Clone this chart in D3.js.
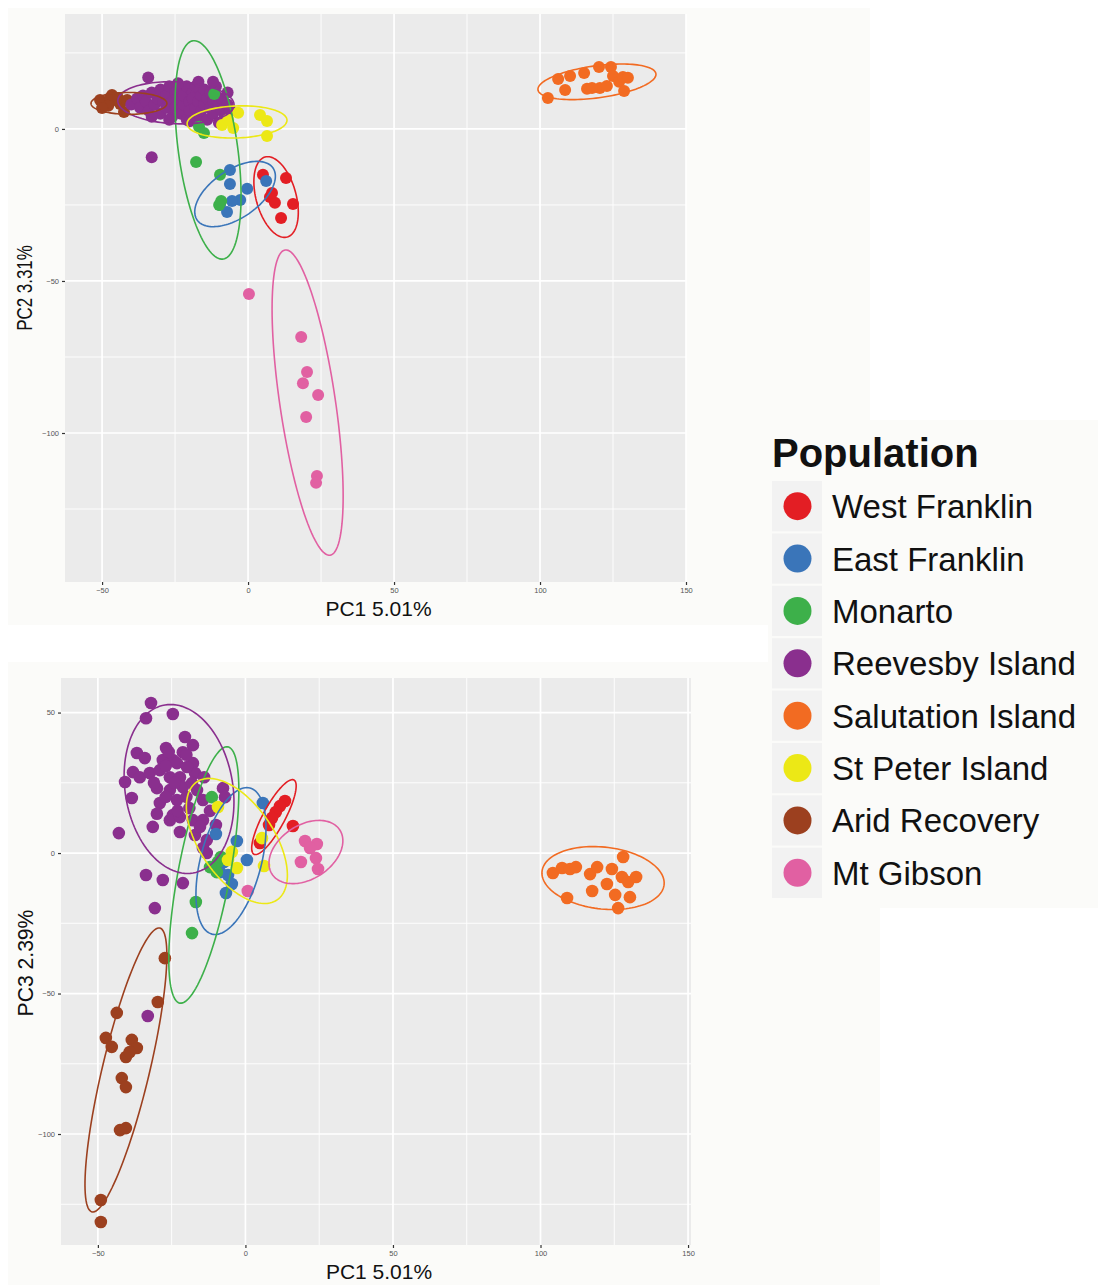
<!DOCTYPE html>
<html>
<head>
<meta charset="utf-8">
<script src="https://cdn.jsdelivr.net/npm/d3@7"></script>
<style>
  body { margin: 0; background: #fff; }
  svg { display: block; font-family: "Liberation Sans", Arial, Helvetica, sans-serif; }
</style>
</head>
<body>
<svg id="chart" width="1098" height="1285"></svg>
<script>
// populations + colours (legend order)
var populations = ['West Franklin', 'East Franklin', 'Monarto', 'Reevesby Island',
                   'Salutation Island', 'St Peter Island', 'Arid Recovery', 'Mt Gibson'];
var colours = ['#e31e24', '#3a75b9', '#3db04a', '#8a2f8e',
               '#f26b22', '#ece816', '#9c401f', '#e160a2'];

var xTicks = [-50, 0, 50, 100, 150];
var yTicksTop = [0, -50, -100];
var yTicksBottom = [50, 0, -50, -100];

// ---- PC1 / PC2 scores ----
var wfTop = [[5.1,-15.1],[13.0,-16.1],[7.5,-22.4],[9.2,-24.3],[15.4,-24.7],[11.3,-29.3],[8.2,-21.1]];
var efTop = [[-6.2,-13.5],[6.2,-17.1],[-6.2,-18.1],[-0.3,-19.7],[-2.7,-23.4],[-5.5,-23.7],[-9.6,-25.0],[-7.2,-27.3]];
var moTop = [[-11.6,11.5],[-16.8,0.7],[-15.1,-1.3],[-17.8,-10.9],[-9.6,-15.1],[-9.2,-23.7],[-9.9,-25.0]];
var reTop = [[-40,8],[-38,10],[-37,7],[-36,11],[-35,9],[-34,6],[-33,12],[-32,8],[-31,10],[-30,5],
  [-30,13],[-29,9],[-28,7],[-28,11],[-27,14],[-26,9],[-26,4],[-25,12],[-25,7],[-24,10],
  [-23,13],[-23,5],[-22,8],[-22,11],[-21,14],[-21,3],[-20,9],[-20,6],[-19,12],[-19,10],
  [-18,7],[-18,14],[-17,4],[-17,9],[-16,11],[-16,6],[-15,13],[-15,8],[-14,10],[-14,3],
  [-13,7],[-13,12],[-12,9],[-12,5],[-11,11],[-11,14],[-10,8],[-10,2],[-9,6],[-9,10],
  [-8,4],[-7,8],[-7,12],[-6,6],[-24,15],[-17,15.5],[-12,15.5],[-20,2.5],[-27,3],[-33,4],
  [-34.2,16.9],[-33,-9.3]];
var saTop = [[102.7,10.2],[106.2,16.4],[108.6,12.8],[110.3,17.4],[115.1,18.4],[116.1,13.2],[120.2,20.4],
  [120.5,13.5],[124.3,20.4],[125.0,17.4],[127.1,15.5],[128.4,17.1],[130.1,16.8],[128.8,12.5],
  [117.8,13.5],[122.9,14.1]];
var spTop = [[-3.4,5.3],[4.1,4.6],[6.5,2.6],[-8.9,1.3],[-5.1,0.3],[6.5,-2.3],[-6.8,3.0]];
var arTop = [[-50.7,9.5],[-49.0,8.6],[-47.3,10.2],[-45.5,9.5],[-47.9,7.6],[-43.8,8.2],[-42.5,5.6],
  [-50.0,6.9],[-46.6,11.2],[-44.5,10.2],[-41.4,9.5]];
var mgTop = [[0.3,-54.3],[18.2,-68.4],[20.2,-79.9],[18.8,-83.6],[24.0,-87.5],[19.9,-94.7],[23.6,-114.1],[23.3,-116.4]];

// ---- PC1 / PC3 scores ----
var wfBottom = [[13.4,18.5],[11.7,16.7],[10.3,14.6],[8.0,10.0],[16.1,9.6],[4.9,3.6],[9.0,12.5]];
var efBottom = [[-10.0,6.8],[-2.9,4.3],[5.9,17.8],[0.5,-2.5],[-7.3,-3.2],[-5.9,-7.8],[-4.6,-11.0],[-6.6,-14.2],[-8.6,-6.8]];
var moBottom = [[-11.4,19.9],[-9.3,-3.2],[-9.7,-6.8],[-16.8,-17.4],[-18.1,-28.5],[-12.0,-5.0],[-8.3,-1.4]];
var reBottom = [[-32.0,53.4],[-33.7,48.0],[-24.6,49.5],[-20.5,41.3],[-17.8,38.4],[-26.9,37.4],[-36.8,35.6],
  [-34.1,33.8],[-24.6,33.1],[-21.2,35.9],[-17.8,32.0],[-17.1,28.5],[-38.1,28.8],[-35.8,27.0],
  [-40.8,25.3],[-32.4,28.5],[-29.0,29.5],[-25.6,27.0],[-22.2,27.0],[-30.0,23.1],[-25.6,22.4],
  [-21.2,23.5],[-18.1,24.9],[-16.4,22.4],[-38.5,19.6],[-29.0,17.8],[-23.2,18.9],[-7.6,23.1],
  [-6.9,19.9],[-14.4,18.9],[-24.6,13.5],[-25.6,11.7],[-22.2,12.8],[-17.8,11.7],[-14.4,11.7],
  [-31.4,9.3],[-22.2,7.5],[-17.1,6.4],[-13.1,4.6],[-14.4,1.8],[-13.1,0.0],[-42.9,7.1],
  [-33.7,-7.8],[-28.0,-9.6],[-21.2,-10.7],[-30.7,-19.6],[-33.1,-58.0],[-15.4,9.3],[-23.2,32.0],
  [-28.0,33.1],[-19.8,30.6],[-27,31],[-31,25],[-24,25],[-20,20],[-27,20],[-19,16],[-23,15],
  [-30,14],[-26,36],[-20,35],[-14,27],[-12,15],[-10,10]];
var saBottom = [[104.2,-7.1],[107.3,-5.3],[110.0,-5.7],[112.0,-5.0],[109.0,-16.0],[116.8,-7.5],[119.2,-5.0],
  [117.5,-13.5],[122.5,-11.0],[124.2,-5.7],[125.3,-14.9],[128.0,-1.4],[127.6,-8.5],[129.7,-10.3],
  [132.4,-8.5],[130.3,-15.7],[126.3,-19.6]];
var spBottom = [[-9.3,16.4],[5.6,5.3],[-4.6,0.4],[-2.9,-5.3],[6.3,-4.6],[-5.9,-2.5]];
var arBottom = [[-27.3,-37.4],[-29.7,-53.0],[-43.6,-56.9],[-47.3,-65.8],[-45.3,-69.0],[-38.5,-66.5],
  [-36.8,-69.4],[-40.5,-72.6],[-41.9,-80.1],[-40.5,-83.3],[-42.5,-98.6],[-40.5,-97.9],
  [-49.0,-123.5],[-49.0,-131.3],[-39.2,-70.8]];
var mgBottom = [[20.2,4.3],[24.2,3.2],[21.9,1.8],[18.8,-3.2],[23.9,-1.8],[24.6,-5.7],[0.8,-13.5]];

// 95% ellipses: centre, then two conjugate half-axes (data units)
// [population, cx, cy, ax, ay, bx, by]
var ellipsesTop = [
  ['West Franklin', 9.6, -22.4, 3.77, -13.16, 6.61, 1.74],
  ['East Franklin', -4.45, -21.4, 13.0, 8.55, 4.66, -6.51],
  ['Monarto', -13.7, -6.9, 5.14, -35.9, 10.07, 1.32],
  ['Reevesby Island', -24.7, 8.6, 19.9, -0.66, 0, -6.9],
  ['Salutation Island', 119.5, 15.5, 20.2, 2.63, 0.72, -5.23],
  ['St Peter Island', -3.77, 2.3, 17.1, 0.66, 0.34, -5.26],
  ['Arid Recovery', -40.8, 8.4, 13.0, 0, 0, -3.6],
  ['Mt Gibson', 20.4, -90.0, 7.71, -50.2, 9.42, 1.34]
];
var ellipsesBottom = [
  ['West Franklin', 9.66, 12.8, 6.78, 13.2, 3.29, -1.85],
  ['East Franklin', -4.9, -2.85, 6.44, 26.0, 9.97, -2.73],
  ['Monarto', -14.1, -7.8, 8.14, 45.6, 8.64, -1.71],
  ['Reevesby Island', -22.5, 22.8, 4.75, -29.9, 18.0, 3.13],
  ['Salutation Island', 121.2, -8.9, 20.7, -2.14, -0.68, -11.0],
  ['St Peter Island', -2.9, 4.3, 13.6, -21.0, 10.4, 7.4],
  ['Arid Recovery', -40.5, -77.2, 11.5, 50.5, 7.76, -1.96],
  ['Mt Gibson', 20.5, 0.36, 11.5, 7.83, 4.95, -8.08]
];

var colour = d3.scaleOrdinal().domain(populations).range(colours);
var drawOrder = ['Arid Recovery', 'Reevesby Island', 'West Franklin', 'East Franklin',
                 'Monarto', 'Salutation Island', 'St Peter Island', 'Mt Gibson'];

function table(sets) {
  var rows = [];
  drawOrder.forEach(function(p) {
    sets[p].forEach(function(d) { rows.push({pop: p, x: d[0], y: d[1]}); });
  });
  return rows;
}

var topRows = table({
  'West Franklin': wfTop, 'East Franklin': efTop, 'Monarto': moTop, 'Reevesby Island': reTop,
  'Salutation Island': saTop, 'St Peter Island': spTop, 'Arid Recovery': arTop, 'Mt Gibson': mgTop
});
var bottomRows = table({
  'West Franklin': wfBottom, 'East Franklin': efBottom, 'Monarto': moBottom, 'Reevesby Island': reBottom,
  'Salutation Island': saBottom, 'St Peter Island': spBottom, 'Arid Recovery': arBottom, 'Mt Gibson': mgBottom
});

var svg = d3.select('#chart');

// off-white plot backgrounds
svg.append('rect').attr('x', 8).attr('y', 8).attr('width', 862).attr('height', 617).attr('fill', '#fbfbf9');
svg.append('rect').attr('x', 8).attr('y', 662).attr('width', 872).attr('height', 623).attr('fill', '#fbfbf9');
svg.append('rect').attr('x', 768).attr('y', 420).attr('width', 330).attr('height', 488).attr('fill', '#fbfbf9');

function drawPanel(cfg) {
  var x = d3.scaleLinear().domain(cfg.xDomain).range([cfg.left, cfg.right]);
  var y = d3.scaleLinear().domain(cfg.yDomain).range([cfg.top, cfg.bottom]);
  var g = svg.append('g');

  g.append('rect')
    .attr('x', cfg.left).attr('y', cfg.top)
    .attr('width', cfg.right - cfg.left).attr('height', cfg.bottom - cfg.top)
    .attr('fill', '#ebebeb');

  var minorX = xTicks.map(function(t) { return t - 25; }).filter(function(t) { return t > cfg.xDomain[0]; });
  var minorY = d3.range(-150, 75, 25).filter(function(t) { return t % 50 !== 0 && t < cfg.yDomain[0] && t > cfg.yDomain[1]; });
  var majorY = d3.range(-150, 75, 50).filter(function(t) { return t < cfg.yDomain[0] && t > cfg.yDomain[1]; });

  g.selectAll('.minx').data(minorX).enter().append('line')
    .attr('x1', x).attr('x2', x).attr('y1', cfg.top).attr('y2', cfg.bottom)
    .attr('stroke', '#fff').attr('stroke-width', 0.9);
  g.selectAll('.miny').data(minorY).enter().append('line')
    .attr('y1', y).attr('y2', y).attr('x1', cfg.left).attr('x2', cfg.right)
    .attr('stroke', '#fff').attr('stroke-width', 0.9);
  g.selectAll('.majx').data(xTicks).enter().append('line')
    .attr('x1', x).attr('x2', x).attr('y1', cfg.top).attr('y2', cfg.bottom)
    .attr('stroke', '#fff').attr('stroke-width', 1.7);
  g.selectAll('.majy').data(majorY).enter().append('line')
    .attr('y1', y).attr('y2', y).attr('x1', cfg.left).attr('x2', cfg.right)
    .attr('stroke', '#fff').attr('stroke-width', 1.7);

  // axes: small ticks, tiny grey labels
  var xAxis = d3.axisBottom(x).tickValues(xTicks).tickSize(3).tickPadding(3)
    .tickFormat(function(d) { return d < 0 ? '\u2212' + Math.abs(d) : d; });
  var yAxis = d3.axisLeft(y).tickValues(cfg.yTicks).tickSize(3).tickPadding(3)
    .tickFormat(function(d) { return d < 0 ? '\u2212' + Math.abs(d) : d; });
  var ax = g.append('g').attr('transform', 'translate(0,' + cfg.bottom + ')').call(xAxis);
  var ay = g.append('g').attr('transform', 'translate(' + cfg.left + ',0)').call(yAxis);
  [ax, ay].forEach(function(a) {
    a.select('.domain').remove();
    a.selectAll('line').attr('stroke', '#333').attr('stroke-width', 1.2);
    a.selectAll('text').attr('fill', '#555').style('font-size', '7.5px')
      .style('font-family', '"Liberation Sans", Arial, sans-serif');
  });

  // points
  g.selectAll('circle.pt').data(cfg.rows).enter().append('circle')
    .attr('class', 'pt')
    .attr('cx', function(d) { return x(d.x); })
    .attr('cy', function(d) { return y(d.y); })
    .attr('r', cfg.r)
    .attr('fill', function(d) { return colour(d.pop); });

  // ellipses
  var ts = d3.range(0, 2 * Math.PI + 0.001, Math.PI / 60);
  var line = d3.line();
  g.selectAll('path.ell').data(cfg.ellipses).enter().append('path')
    .attr('class', 'ell')
    .attr('d', function(e) {
      return line(ts.map(function(t) {
        return [x(e[1] + e[3] * Math.cos(t) + e[5] * Math.sin(t)),
                y(e[2] + e[4] * Math.cos(t) + e[6] * Math.sin(t))];
      })) + 'Z';
    })
    .attr('fill', 'none')
    .attr('stroke', function(e) { return colour(e[0]); })
    .attr('stroke-width', 1.6);

  // titles
  g.append('text')
    .attr('x', (cfg.left + cfg.right) / 2 + 3).attr('y', cfg.xTitleY)
    .attr('text-anchor', 'middle').attr('fill', '#111')
    .style('font-size', '21px')
    .text('PC1 5.01%');
  g.append('text')
    .attr('transform', 'translate(' + cfg.yTitleX + ',' + cfg.yTitleCY + ') rotate(-90) scale(' + cfg.yTitleSqueeze + ',1)')
    .attr('text-anchor', 'middle').attr('fill', '#111')
    .style('font-size', '22px')
    .text(cfg.yTitle);
}

drawPanel({
  left: 65, right: 686, top: 14, bottom: 582,
  xDomain: [-62.7, 150], yDomain: [37.8, -149],
  yTicks: yTicksTop, rows: topRows, ellipses: ellipsesTop, r: 6,
  xTitleY: 616, yTitleX: 32, yTitleCY: 288, yTitleSqueeze: 0.77, yTitle: 'PC2 3.31%'
});

drawPanel({
  left: 61, right: 691, top: 678, bottom: 1245,
  xDomain: [-62.5, 151], yDomain: [62.3, -139.5],
  yTicks: yTicksBottom, rows: bottomRows, ellipses: ellipsesBottom, r: 6.3,
  xTitleY: 1279, yTitleX: 33, yTitleCY: 963, yTitleSqueeze: 0.96, yTitle: 'PC3 2.39%'
});

// legend
var legend = svg.append('g').attr('transform', 'translate(772,0)');
legend.append('text')
  .attr('x', 0).attr('y', 467)
  .attr('fill', '#111')
  .style('font-size', '40px').style('font-weight', 'bold')
  .text('Population');

var rowY = d3.scaleBand().domain(populations).range([481, 898]).paddingInner(0.04);
var keys = legend.selectAll('g.key').data(populations).enter().append('g')
  .attr('class', 'key')
  .attr('transform', function(p) { return 'translate(0,' + rowY(p) + ')'; });
keys.append('rect')
  .attr('width', 50).attr('height', rowY.bandwidth())
  .attr('fill', '#f2f2f2');
keys.append('circle')
  .attr('cx', 25.5).attr('cy', rowY.bandwidth() / 2)
  .attr('r', 14)
  .attr('fill', function(p) { return colour(p); });
keys.append('text')
  .attr('x', 60).attr('y', rowY.bandwidth() / 2 + 12)
  .attr('fill', '#111')
  .style('font-size', '33px')
  .text(function(p) { return p; });
</script>
</body>
</html>
